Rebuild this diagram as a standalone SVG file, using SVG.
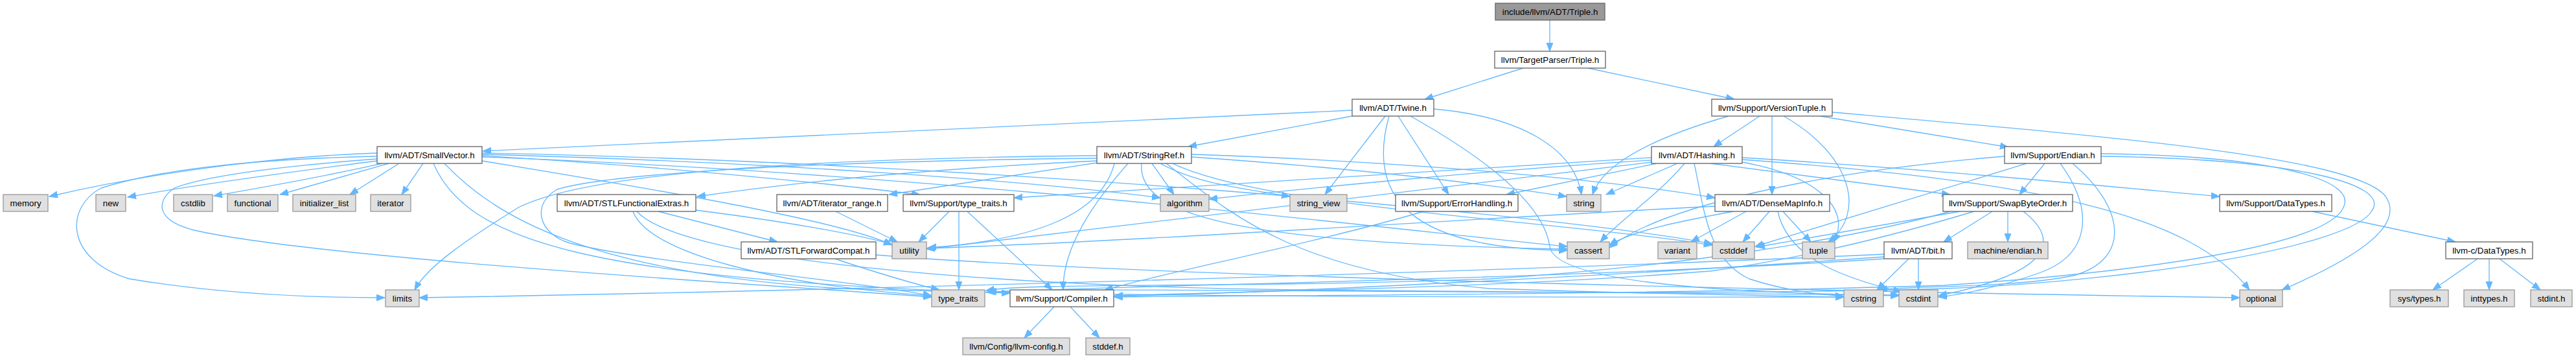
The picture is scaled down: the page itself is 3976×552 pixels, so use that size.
<svg xmlns="http://www.w3.org/2000/svg" width="3976" height="552" viewBox="0 0 3976 552">
<style>
rect{stroke-width:1.33}
.n rect{fill:#ffffff;stroke:#666666}
.x rect{fill:#e0e0e0;stroke:#999999}
.r rect{fill:#999999;stroke:#666666}
text{font-family:"Liberation Sans",Arial,sans-serif;font-size:13.33px;fill:#000;text-anchor:middle}
#edges path{fill:none;stroke:#63b8ff;stroke-width:1.33;marker-end:url(#a)}
</style>
<defs>
<marker id="a" markerUnits="userSpaceOnUse" markerWidth="14" markerHeight="11" refX="13" refY="5" orient="auto"><path d="M0,0 L13,5 L0,10 z" fill="#63b8ff" stroke="#63b8ff"/></marker>
</defs>
<rect width="3976" height="552" fill="#ffffff"/>
<g id="edges">
<path d="M2392,31 L2392,79"/>
<path d="M2351,105 L2199,153"/>
<path d="M2451,105 L2677,153"/>
<path d="M2087,170 L745,233"/>
<path d="M2087,179 L1834,226"/>
<path d="M2138,179 L2045,300"/>
<path d="M2144,179 C2110,300 2170,384 2419,386"/>
<path d="M2158,179 L2236,300"/>
<path d="M2177,179 C2330,265 2385,330 2392,380 C2400,440 2700,452 2931,456"/>
<path d="M2213,168 C2350,180 2430,230 2441,300"/>
<path d="M2668,179 C2560,210 2475,250 2458,300"/>
<path d="M2716,179 L2645,226"/>
<path d="M2735,179 L2735,300"/>
<path d="M2753,179 C2860,240 2880,330 2822,373"/>
<path d="M2809,179 L3100,227"/>
<path d="M2828,173 C3250,210 3620,240 3680,300 C3720,350 3620,405 3522,447"/>
<path d="M2549,243 L1565,305"/>
<path d="M2549,247 C2300,262 2000,292 1866,307"/>
<path d="M2557,252 L2325,300"/>
<path d="M2589,252 L2479,300"/>
<path d="M2600,252 C2560,300 2500,340 2470,373"/>
<path d="M2549,250 C2200,290 1700,355 1430,384"/>
<path d="M2615,252 C2630,320 2635,400 2700,430 C2760,450 2820,455 2846,457"/>
<path d="M2689,250 C2800,270 2860,320 2830,373"/>
<path d="M2689,246 C3150,280 3380,330 3472,447"/>
<path d="M2689,243 C3000,262 3300,292 3426,303"/>
<path d="M2640,252 L3010,300"/>
<path d="M2731,326 L2690,373"/>
<path d="M2752,326 L2795,373"/>
<path d="M2744,326 C2760,400 2850,430 2935,450"/>
<path d="M2695,326 L2610,373"/>
<path d="M2675,326 C2600,340 2520,355 2484,378"/>
<path d="M2647,318 C2300,335 1800,370 1430,383"/>
<path d="M3156,252 L3117,300"/>
<path d="M3128,252 L2709,380"/>
<path d="M3094,241 C2800,265 2560,320 2484,382"/>
<path d="M3180,252 C3230,320 3230,390 3150,420 C3080,445 3020,455 2992,458"/>
<path d="M3199,252 C3280,320 3290,400 3200,425 C3100,445 2950,440 2900,447"/>
<path d="M3243,237 C3500,240 3640,275 3617,320 C3590,380 3300,420 3000,440 C2500,455 2000,455 1720,458"/>
<path d="M3243,241 C3550,245 3690,285 3661,325 C3630,380 3300,433 3000,445 C2500,460 1700,440 1525,450"/>
<path d="M3025,326 L2711,381"/>
<path d="M3075,326 L3000,373"/>
<path d="M3099,326 L3099,373"/>
<path d="M3123,326 C3180,370 3170,420 2992,456"/>
<path d="M3047,326 C2900,370 2770,400 2640,418 C2300,445 1900,450 1720,456"/>
<path d="M3010,326 C2850,370 2600,410 2300,430 C1900,445 1600,435 1522,448"/>
<path d="M2946,399 L2897,447"/>
<path d="M2961,399 L2961,447"/>
<path d="M2908,392 C2300,420 1200,450 647,459"/>
<path d="M2908,396 C2500,425 2000,450 1720,457"/>
<path d="M2908,399 C2400,432 1700,440 1524,451"/>
<path d="M1839,238 C2200,250 2500,280 2647,305"/>
<path d="M1693,248 C1400,262 1200,285 1076,303"/>
<path d="M1693,251 C1550,272 1450,288 1372,300"/>
<path d="M1741,252 C1690,310 1640,380 1641,447"/>
<path d="M1778,252 L1812,300"/>
<path d="M1762,252 C1755,330 1900,375 2419,384"/>
<path d="M1810,252 C1950,320 2400,340 2643,378"/>
<path d="M1800,252 C1900,330 2000,420 2300,445 C2600,455 2750,456 2846,458"/>
<path d="M1693,240 C1200,245 900,270 800,320 C720,370 660,410 640,447"/>
<path d="M1839,242 C2100,260 2300,285 2418,303"/>
<path d="M1791,252 C1850,285 1930,292 1991,303"/>
<path d="M1693,244 C1300,248 950,265 860,292 C820,315 830,360 880,375 C1000,405 1300,430 1438,456"/>
<path d="M1720,252 C1700,330 1600,370 1432,382"/>
<path d="M616,252 L540,300"/>
<path d="M653,252 L620,300"/>
<path d="M600,252 L432,300"/>
<path d="M590,252 C500,272 400,290 330,302"/>
<path d="M582,236 C450,240 250,262 76,303"/>
<path d="M582,248 C450,265 300,285 197,304"/>
<path d="M582,241 C400,245 250,260 156,290 C100,320 100,400 200,430 C350,455 500,459 594,459"/>
<path d="M582,245 C450,255 320,270 269,290 C240,310 240,340 300,355 C500,400 1200,440 1438,458"/>
<path d="M744,240 C1000,255 1250,280 1420,300"/>
<path d="M744,238 C1200,250 1600,280 1791,305"/>
<path d="M744,242 C1500,270 2200,360 2419,380"/>
<path d="M744,236 C1500,250 2400,330 2643,376"/>
<path d="M686,252 C760,330 900,420 1300,445 C1800,460 2500,458 2846,458"/>
<path d="M669,252 C720,370 900,430 1559,452"/>
<path d="M744,248 C1000,290 1300,340 1377,378"/>
<path d="M1016,326 L1200,373"/>
<path d="M1074,324 C1200,340 1320,360 1377,377"/>
<path d="M977,326 C1000,390 1200,440 1438,456"/>
<path d="M983,326 C1050,400 1500,440 2000,447 C2500,452 2800,452 2931,455"/>
<path d="M1289,399 C1350,420 1420,440 1450,447"/>
<path d="M1352,393 C1800,430 3000,452 3457,459"/>
<path d="M1290,326 L1385,373"/>
<path d="M1465,326 L1418,373"/>
<path d="M1480,326 L1480,447"/>
<path d="M1493,326 L1624,447"/>
<path d="M1627,473 L1581,521"/>
<path d="M1652,473 L1697,521"/>
<path d="M2197,326 C2050,370 1800,420 1705,447"/>
<path d="M3569,326 L3790,373"/>
<path d="M3824,399 L3755,447"/>
<path d="M3842,399 L3842,447"/>
<path d="M3858,399 L3921,447"/>
</g>
<g id="root" class="r"><rect x="2308" y="5" width="169" height="26"/><text x="2392.5" y="22.5">include/llvm/ADT/Triple.h</text></g>
<g id="tpTriple" class="n"><rect x="2307" y="79" width="171" height="26"/><text x="2392.5" y="96.5">llvm/TargetParser/Triple.h</text></g>
<g id="twine" class="n"><rect x="2087" y="153" width="126" height="26"/><text x="2150" y="170.5">llvm/ADT/Twine.h</text></g>
<g id="versionTuple" class="n"><rect x="2642" y="153" width="186" height="26"/><text x="2735" y="170.5">llvm/Support/VersionTuple.h</text></g>
<g id="smallVector" class="n"><rect x="582" y="226" width="162" height="26"/><text x="663" y="243.5">llvm/ADT/SmallVector.h</text></g>
<g id="stringRef" class="n"><rect x="1693" y="226" width="146" height="26"/><text x="1766" y="243.5">llvm/ADT/StringRef.h</text></g>
<g id="hashing" class="n"><rect x="2549" y="226" width="140" height="26"/><text x="2619" y="243.5">llvm/ADT/Hashing.h</text></g>
<g id="endian" class="n"><rect x="3094" y="226" width="149" height="26"/><text x="3168.5" y="243.5">llvm/Support/Endian.h</text></g>
<g id="memory" class="x"><rect x="5" y="300" width="69" height="26"/><text x="39.5" y="317.5">memory</text></g>
<g id="new" class="x"><rect x="148" y="300" width="46" height="26"/><text x="171" y="317.5">new</text></g>
<g id="cstdlib" class="x"><rect x="268" y="300" width="60" height="26"/><text x="298" y="317.5">cstdlib</text></g>
<g id="functional" class="x"><rect x="351" y="300" width="78" height="26"/><text x="390" y="317.5">functional</text></g>
<g id="initializer_list" class="x"><rect x="452" y="300" width="97" height="26"/><text x="500.5" y="317.5">initializer_list</text></g>
<g id="iterator" class="x"><rect x="572" y="300" width="62" height="26"/><text x="603" y="317.5">iterator</text></g>
<g id="stlFunctionalExtras" class="n"><rect x="860" y="300" width="214" height="26"/><text x="967" y="317.5">llvm/ADT/STLFunctionalExtras.h</text></g>
<g id="iteratorRange" class="n"><rect x="1199" y="300" width="171" height="26"/><text x="1284.5" y="317.5">llvm/ADT/iterator_range.h</text></g>
<g id="supportTypeTraits" class="n"><rect x="1394" y="300" width="171" height="26"/><text x="1479.5" y="317.5">llvm/Support/type_traits.h</text></g>
<g id="algorithm" class="x"><rect x="1791" y="300" width="75" height="26"/><text x="1828.5" y="317.5">algorithm</text></g>
<g id="string_view" class="x"><rect x="1991" y="300" width="88" height="26"/><text x="2035" y="317.5">string_view</text></g>
<g id="errorHandling" class="n"><rect x="2154" y="300" width="189" height="26"/><text x="2248.5" y="317.5">llvm/Support/ErrorHandling.h</text></g>
<g id="string" class="x"><rect x="2418" y="300" width="53" height="26"/><text x="2444.5" y="317.5">string</text></g>
<g id="denseMapInfo" class="n"><rect x="2647" y="300" width="177" height="26"/><text x="2735.5" y="317.5">llvm/ADT/DenseMapInfo.h</text></g>
<g id="swapByteOrder" class="n"><rect x="2999" y="300" width="200" height="26"/><text x="3099" y="317.5">llvm/Support/SwapByteOrder.h</text></g>
<g id="dataTypes" class="n"><rect x="3426" y="300" width="173" height="26"/><text x="3512.5" y="317.5">llvm/Support/DataTypes.h</text></g>
<g id="stlForwardCompat" class="n"><rect x="1144" y="373" width="208" height="26"/><text x="1248" y="390.5">llvm/ADT/STLForwardCompat.h</text></g>
<g id="utility" class="x"><rect x="1377" y="373" width="53" height="26"/><text x="1403.5" y="390.5">utility</text></g>
<g id="cassert" class="x"><rect x="2419" y="373" width="65" height="26"/><text x="2451.5" y="390.5">cassert</text></g>
<g id="variant" class="x"><rect x="2559" y="373" width="60" height="26"/><text x="2589" y="390.5">variant</text></g>
<g id="cstddef" class="x"><rect x="2643" y="373" width="65" height="26"/><text x="2675.5" y="390.5">cstddef</text></g>
<g id="tuple" class="x"><rect x="2782" y="373" width="50" height="26"/><text x="2807" y="390.5">tuple</text></g>
<g id="bit" class="n"><rect x="2908" y="373" width="105" height="26"/><text x="2960.5" y="390.5">llvm/ADT/bit.h</text></g>
<g id="machineEndian" class="x"><rect x="3037" y="373" width="124" height="26"/><text x="3099" y="390.5">machine/endian.h</text></g>
<g id="llvmcDataTypes" class="n"><rect x="3775" y="373" width="134" height="26"/><text x="3842" y="390.5">llvm-c/DataTypes.h</text></g>
<g id="limits" class="x"><rect x="595" y="447" width="52" height="26"/><text x="621" y="464.5">limits</text></g>
<g id="type_traits" class="x"><rect x="1438" y="447" width="82" height="26"/><text x="1479" y="464.5">type_traits</text></g>
<g id="compiler" class="n"><rect x="1559" y="447" width="160" height="26"/><text x="1639" y="464.5">llvm/Support/Compiler.h</text></g>
<g id="cstring" class="x"><rect x="2846" y="447" width="61" height="26"/><text x="2876.5" y="464.5">cstring</text></g>
<g id="cstdint" class="x"><rect x="2931" y="447" width="60" height="26"/><text x="2961" y="464.5">cstdint</text></g>
<g id="optional" class="x"><rect x="3457" y="447" width="66" height="26"/><text x="3490" y="464.5">optional</text></g>
<g id="sysTypes" class="x"><rect x="3689" y="447" width="90" height="26"/><text x="3734" y="464.5">sys/types.h</text></g>
<g id="inttypes" class="x"><rect x="3803" y="447" width="78" height="26"/><text x="3842" y="464.5">inttypes.h</text></g>
<g id="stdint" class="x"><rect x="3906" y="447" width="64" height="26"/><text x="3938" y="464.5">stdint.h</text></g>
<g id="llvmConfig" class="x"><rect x="1486" y="521" width="165" height="26"/><text x="1568.5" y="538.5">llvm/Config/llvm-config.h</text></g>
<g id="stddef" class="x"><rect x="1676" y="521" width="68" height="26"/><text x="1710" y="538.5">stddef.h</text></g>
</svg>
